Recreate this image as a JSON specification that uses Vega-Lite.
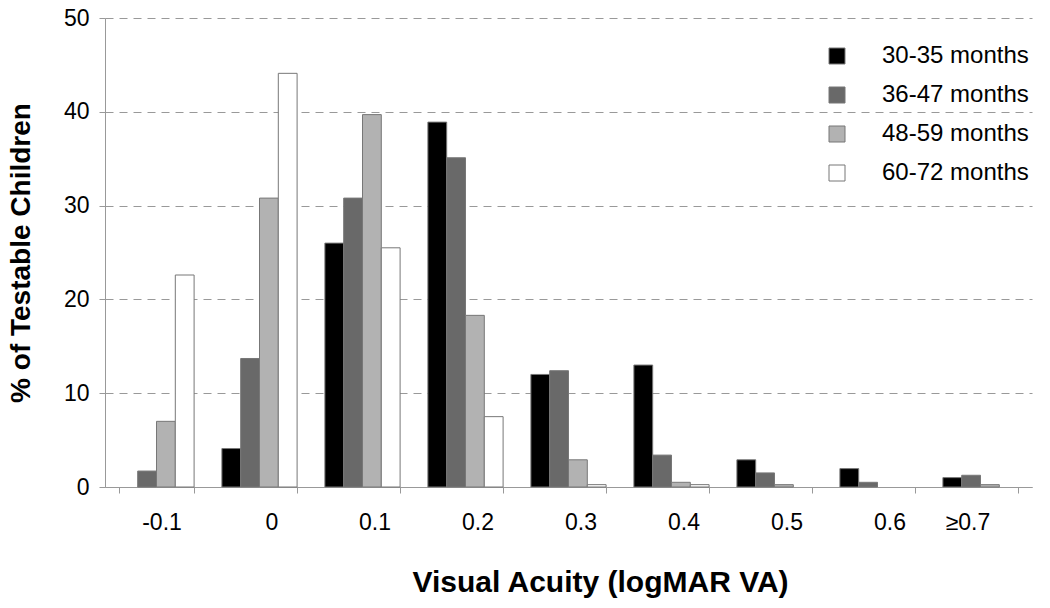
{
  "$schema": "https://vega.github.io/schema/vega-lite/v6.json",
  "width": 927,
  "height": 469,
  "autosize": "none",
  "padding": {"left": 105, "top": 18, "right": 18, "bottom": 121},
  "background": "white",
  "data": {
    "values": [
      {"va": "-0.1", "age": "36-47 months", "pct": 1.7},
      {"va": "-0.1", "age": "48-59 months", "pct": 7.0},
      {"va": "-0.1", "age": "60-72 months", "pct": 22.6},
      {"va": "0", "age": "30-35 months", "pct": 4.1},
      {"va": "0", "age": "36-47 months", "pct": 13.7},
      {"va": "0", "age": "48-59 months", "pct": 30.8},
      {"va": "0", "age": "60-72 months", "pct": 44.1},
      {"va": "0.1", "age": "30-35 months", "pct": 26.0},
      {"va": "0.1", "age": "36-47 months", "pct": 30.8},
      {"va": "0.1", "age": "48-59 months", "pct": 39.7},
      {"va": "0.1", "age": "60-72 months", "pct": 25.5},
      {"va": "0.2", "age": "30-35 months", "pct": 38.9},
      {"va": "0.2", "age": "36-47 months", "pct": 35.1},
      {"va": "0.2", "age": "48-59 months", "pct": 18.3},
      {"va": "0.2", "age": "60-72 months", "pct": 7.5},
      {"va": "0.3", "age": "30-35 months", "pct": 12.0},
      {"va": "0.3", "age": "36-47 months", "pct": 12.4},
      {"va": "0.3", "age": "48-59 months", "pct": 2.9},
      {"va": "0.3", "age": "60-72 months", "pct": 0.25},
      {"va": "0.4", "age": "30-35 months", "pct": 13.0},
      {"va": "0.4", "age": "36-47 months", "pct": 3.4},
      {"va": "0.4", "age": "48-59 months", "pct": 0.5},
      {"va": "0.4", "age": "60-72 months", "pct": 0.25},
      {"va": "0.5", "age": "30-35 months", "pct": 2.9},
      {"va": "0.5", "age": "36-47 months", "pct": 1.5},
      {"va": "0.5", "age": "48-59 months", "pct": 0.25},
      {"va": "0.6", "age": "30-35 months", "pct": 1.96},
      {"va": "0.6", "age": "36-47 months", "pct": 0.5},
      {"va": "≥0.7", "age": "30-35 months", "pct": 1.0},
      {"va": "≥0.7", "age": "36-47 months", "pct": 1.25},
      {"va": "≥0.7", "age": "48-59 months", "pct": 0.25}
    ]
  },
  "mark": {"type": "bar", "stroke": "#777777", "strokeWidth": 1},
  "encoding": {
    "x": {
      "field": "va",
      "type": "nominal",
      "sort": ["-0.1", "0", "0.1", "0.2", "0.3", "0.4", "0.5", "0.6", "≥0.7"],
      "scale": {
        "domain": ["-0.1", "0", "0.1", "0.2", "0.3", "0.4", "0.5", "0.6", "≥0.7"],
        "paddingInner": 0.27, "paddingOuter": 0.135
      },
      "axis": {
        "title": "Visual Acuity (logMAR VA)",
        "titleFont": "Liberation Sans",
        "titleFontSize": 30,
        "titleFontWeight": "bold",
        "titleColor": "#000000",
        "titlePadding": 33,
        "titleX": 495,
        "labelFont": "Liberation Sans",
        "labelFontSize": 23,
        "labelColor": "#000000",
        "labelAngle": 0,
        "labelPadding": 18,
        "labelOffset": {
          "condition": [
            {"test": "datum.value === '≥0.7'", "value": -13},
            {"test": "datum.value === '-0.1'", "value": 5}
          ],
          "value": 12
        },
        "tickBand": "extent",
        "tickSize": 6,
        "tickColor": "#999999",
        "domainColor": "#999999",
        "grid": false
      }
    },
    "xOffset": {
      "field": "age",
      "type": "nominal",
      "sort": ["30-35 months", "36-47 months", "48-59 months", "60-72 months"],
      "scale": {
        "domain": ["30-35 months", "36-47 months", "48-59 months", "60-72 months"],
        "paddingInner": 0, "paddingOuter": 0
      }
    },
    "y": {
      "field": "pct",
      "type": "quantitative",
      "scale": {"domain": [0, 50], "nice": false},
      "axis": {
        "title": "% of Testable Children",
        "titleFont": "Liberation Sans",
        "titleFontSize": 28,
        "titleFontWeight": "bold",
        "titleColor": "#000000",
        "titlePadding": 28,
        "labelFont": "Liberation Sans",
        "labelFontSize": 23,
        "labelColor": "#000000",
        "labelPadding": 10,
        "values": [0, 10, 20, 30, 40, 50],
        "tickSize": 6,
        "tickColor": "#999999",
        "domainColor": "#999999",
        "grid": true,
        "gridColor": "#999999",
        "gridDash": [8, 6],
        "gridWidth": 1
      }
    },
    "color": {
      "field": "age",
      "type": "nominal",
      "scale": {
        "domain": ["30-35 months", "36-47 months", "48-59 months", "60-72 months"],
        "range": ["#000000", "#696969", "#b2b2b2", "#ffffff"]
      },
      "legend": {
        "title": null,
        "orient": "none",
        "legendX": 720,
        "legendY": 26,
        "symbolType": "square",
        "symbolSize": 256,
        "symbolStrokeColor": "#777777",
        "symbolStrokeWidth": 1,
        "labelFont": "Liberation Sans",
        "labelFontSize": 24,
        "labelColor": "#000000",
        "labelOffset": 33,
        "rowPadding": 15
      }
    }
  },
  "config": {
    "view": {"stroke": null}
  }
}
